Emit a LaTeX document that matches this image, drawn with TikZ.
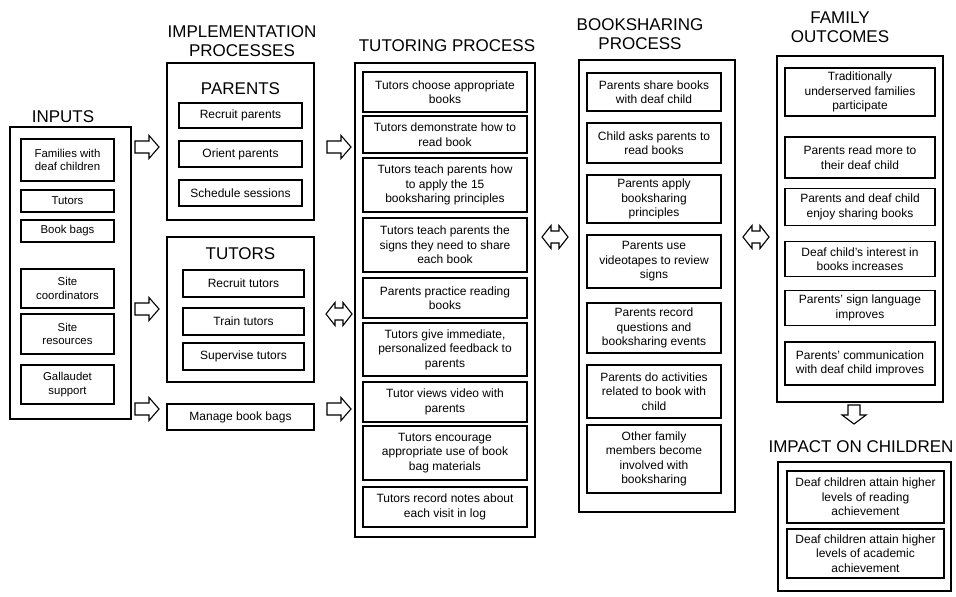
\documentclass[tikz,border=0pt]{standalone}
\usepackage{fontspec}
\setmainfont{Liberation Sans}
\begin{document}
\begin{tikzpicture}[x=1pt,y=-1pt,
  outer/.style={draw, line width=1.1pt, inner sep=0pt},
  ibox/.style={draw, line width=1.1pt, align=center, inner sep=0pt, font=\fontsize{12}{14.5}\selectfont},
  sbox/.style={ibox, font=\fontsize{11.4}{13.5}\selectfont},
  ttl/.style={align=center, font=\fontsize{17}{19}\selectfont, inner sep=0pt},
  blk/.style={draw, line width=1.1pt, line join=miter, fill=white},
  rarr/.pic={\draw[blk] (0,-6) -- (14,-6) -- (14,-11.5) -- (24,0) -- (14,11.5) -- (14,6) -- (0,6) -- cycle;},
  darr/.pic={\draw[blk] (0,0) -- (9,-11.5) -- (9,-6) -- (17,-6) -- (17,-11.5) -- (26,0) -- (17,11.5) -- (17,6) -- (9,6) -- (9,11.5) -- cycle;},
  dnarr/.pic={\draw[blk] (-6,0) -- (6,0) -- (6,10) -- (12,10) -- (0,19) -- (-12,10) -- (-6,10) -- cycle;}
]
\useasboundingbox (0,0) rectangle (956,597);

% ---------- INPUTS ----------
\node[ttl] (tin) at (63,117) {INPUTS};
\node[outer, minimum width=121pt, minimum height=292pt] (inp) at (70.5,273) {};
\node[sbox, minimum width=93pt, minimum height=42pt] (fam) at (67.5,160) {Families with\\deaf children};
\node[sbox, minimum width=93pt, minimum height=22pt] (tut) at (67.5,201) {Tutors};
\node[sbox, minimum width=93pt, minimum height=22pt] (bag) at (67.5,231) {Book bags};
\node[sbox, minimum width=93pt, minimum height=39pt] (coo) at (67.5,288.5) {Site\\coordinators};
\node[sbox, minimum width=93pt, minimum height=40pt] (res) at (67.5,334) {Site\\resources};
\node[sbox, minimum width=93pt, minimum height=39pt] (gal) at (67.5,384.5) {Gallaudet\\support};

% ---------- IMPLEMENTATION ----------
\node[ttl] (timp) at (242,41) {IMPLEMENTATION\\PROCESSES};
\node[outer, minimum width=147pt, minimum height=157pt] (par) at (240.5,141.5) {};
\node[ttl] (tpar) at (240.5,89) {PARENTS};
\node[ibox, minimum width=123pt, minimum height=25pt] (rp) at (240.5,115.5) {Recruit parents};
\node[ibox, minimum width=123pt, minimum height=26pt] (op) at (240.5,154) {Orient parents};
\node[ibox, minimum width=123pt, minimum height=26pt] (ss) at (240.5,193) {Schedule sessions};

\node[outer, minimum width=147pt, minimum height=145pt] (tuts) at (240.5,309.5) {};
\node[ttl] (ttut) at (240.5,254) {TUTORS};
\node[ibox, minimum width=121pt, minimum height=27pt] (rt) at (243.5,283.5) {Recruit tutors};
\node[ibox, minimum width=121pt, minimum height=27pt] (tt) at (243.5,321.5) {Train tutors};
\node[ibox, minimum width=121pt, minimum height=27pt] (st) at (243.5,356.5) {Supervise tutors};

\node[ibox, minimum width=147pt, minimum height=26pt] (mbb) at (240.5,417) {Manage book bags};

% ---------- TUTORING ----------
\node[ttl] (ttp) at (447,46) {TUTORING PROCESS};
\node[outer, minimum width=180pt, minimum height=474pt] (tp) at (445,300) {};
\node[ibox, minimum width=164pt, minimum height=40pt] (t1) at (445,92) {Tutors choose appropriate\\books};
\node[ibox, minimum width=164pt, minimum height=37pt] (t2) at (445,134.5) {Tutors demonstrate how to\\read book};
\node[ibox, minimum width=164pt, minimum height=54pt] (t3) at (445,185) {Tutors teach parents how\\to apply the 15\\booksharing principles};
\node[ibox, minimum width=164pt, minimum height=54pt] (t4) at (445,245) {Tutors teach parents the\\signs they need to share\\each book};
\node[ibox, minimum width=164pt, minimum height=40pt] (t5) at (445,298) {Parents practice reading\\books};
\node[ibox, minimum width=164pt, minimum height=53pt] (t6) at (445,349.5) {Tutors give immediate,\\personalized feedback to\\parents};
\node[ibox, minimum width=164pt, minimum height=40pt] (t7) at (445,402) {Tutor views video with\\parents};
\node[ibox, minimum width=164pt, minimum height=54pt] (t8) at (445,453) {Tutors encourage\\appropriate use of book\\bag materials};
\node[ibox, minimum width=164pt, minimum height=40pt] (t9) at (445,507) {Tutors record notes about\\each visit in log};

% ---------- BOOKSHARING ----------
\node[ttl] (tbs) at (640,34) {BOOKSHARING\\PROCESS};
\node[outer, minimum width=156pt, minimum height=452pt] (bs) at (657,286) {};
\node[ibox, minimum width=134pt, minimum height=38pt] (b1) at (654,92) {Parents share books\\with deaf child};
\node[ibox, minimum width=134pt, minimum height=40pt] (b2) at (654,143) {Child asks parents to\\read books};
\node[ibox, minimum width=134pt, minimum height=48pt] (b3) at (654,199) {Parents apply\\booksharing\\principles};
\node[ibox, minimum width=134pt, minimum height=53pt] (b4) at (654,261.5) {Parents use\\videotapes to review\\signs};
\node[ibox, minimum width=134pt, minimum height=50pt] (b5) at (654,328) {Parents record\\questions and\\booksharing events};
\node[ibox, minimum width=134pt, minimum height=53pt] (b6) at (654,391.5) {Parents do activities\\related to book with\\child};
\node[ibox, minimum width=134pt, minimum height=68pt] (b7) at (654,459) {Other family\\members become\\involved with\\booksharing};

% ---------- FAMILY OUTCOMES ----------
\node[ttl] (tfo) at (840,27) {FAMILY\\OUTCOMES};
\node[outer, minimum width=166pt, minimum height=346pt] (fo) at (860,229) {};
\node[ibox, minimum width=150pt, minimum height=48pt] (f1) at (860,92) {Traditionally\\underserved families\\participate};
\node[ibox, minimum width=150pt, minimum height=41pt] (f2) at (860,157.5) {Parents read more to\\their deaf child};
\node[ibox, minimum width=150pt, minimum height=37pt] (f3) at (860,207) {Parents and deaf child\\enjoy sharing books};
\node[ibox, minimum width=150pt, minimum height=35pt] (f4) at (860,259) {Deaf child's interest in\\books increases};
\node[ibox, minimum width=150pt, minimum height=35pt] (f5) at (860,308) {Parents' sign language\\improves};
\node[ibox, minimum width=150pt, minimum height=43pt] (f6) at (860,363.5) {Parents' communication\\with deaf child improves};

% ---------- IMPACT ----------
\node[ttl] (tim) at (861,447) {IMPACT ON CHILDREN};
\node[outer, minimum width=173pt, minimum height=129pt] (im) at (864.5,526.5) {};
\node[ibox, minimum width=157pt, minimum height=52pt] (i1) at (865.5,497) {Deaf children attain higher\\levels of reading\\achievement};
\node[ibox, minimum width=157pt, minimum height=49pt] (i2) at (865.5,553.5) {Deaf children attain higher\\levels of academic\\achievement};

% ---------- BLOCK ARROWS ----------
\pic at (135,147) {rarr};
\pic at (135,309) {rarr};
\pic at (135,409) {rarr};
\pic at (327,147) {rarr};
\pic at (326,314) {darr};
\pic at (327,409) {rarr};
\pic at (542,237) {darr};
\pic at (743,237) {darr};
\pic at (854,405) {dnarr};
\end{tikzpicture}
\end{document}
